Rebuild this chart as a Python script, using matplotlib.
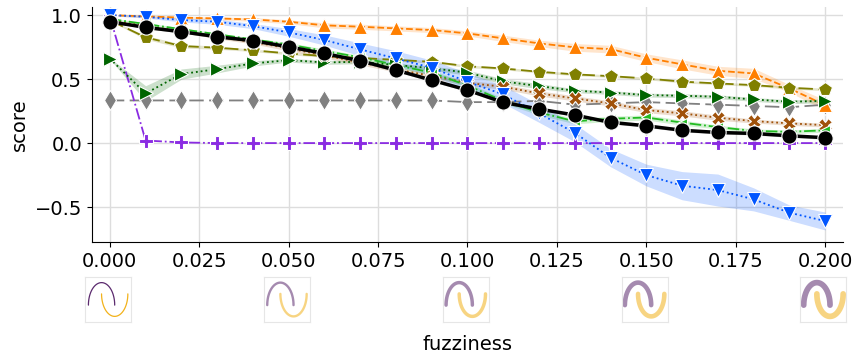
import matplotlib
matplotlib.use("Agg")
import matplotlib.pyplot as plt
import numpy as np

# fuzziness levels
fuzz = [0.00, 0.01, 0.02, 0.03, 0.04, 0.05, 0.06, 0.07, 0.08, 0.09, 0.10,
        0.11, 0.12, 0.13, 0.14, 0.15, 0.16, 0.17, 0.18, 0.19, 0.20]

orange = [1.00, 0.99, 0.98, 0.974, 0.966, 0.948, 0.92, 0.909, 0.896, 0.883, 0.857,
          0.818, 0.779, 0.748, 0.734, 0.667, 0.615, 0.565, 0.544, 0.427, 0.297]
orange_sd = [0.005, 0.01, 0.01, 0.01, 0.015, 0.015, 0.02, 0.02, 0.02, 0.02, 0.02,
             0.025, 0.025, 0.03, 0.03, 0.03, 0.035, 0.035, 0.04, 0.03, 0.04]

blue = [1.00, 0.987, 0.961, 0.948, 0.914, 0.865, 0.805, 0.732, 0.661, 0.588, 0.479,
        0.38, 0.232, 0.08, -0.115, -0.25, -0.333, -0.367, -0.44, -0.544, -0.609]
blue_sd = [0.005, 0.01, 0.015, 0.02, 0.02, 0.03, 0.04, 0.05, 0.06, 0.06, 0.07,
           0.07, 0.07, 0.07, 0.07, 0.085, 0.11, 0.125, 0.09, 0.06, 0.07]

olive = [0.96, 0.826, 0.758, 0.745, 0.725, 0.70, 0.68, 0.665, 0.65, 0.635, 0.60,
         0.583, 0.557, 0.537, 0.523, 0.505, 0.48, 0.466, 0.453, 0.432, 0.419]
olive_sd = [0.005, 0.015, 0.015, 0.012, 0.01, 0.01, 0.01, 0.01, 0.01, 0.01, 0.01,
            0.01, 0.01, 0.01, 0.01, 0.01, 0.01, 0.01, 0.01, 0.01, 0.01]

dkgreen = [0.66, 0.388, 0.539, 0.578, 0.622, 0.648, 0.63, 0.635, 0.61, 0.585, 0.55,
           0.482, 0.445, 0.409, 0.395, 0.375, 0.37, 0.362, 0.341, 0.323, 0.33]
dkgreen_sd = [0.005, 0.06, 0.04, 0.03, 0.02, 0.015, 0.015, 0.015, 0.015, 0.015, 0.02,
              0.02, 0.02, 0.015, 0.015, 0.015, 0.015, 0.015, 0.015, 0.015, 0.015]

gray = [0.333, 0.333, 0.333, 0.333, 0.333, 0.333, 0.333, 0.333, 0.333, 0.333, 0.32,
        0.32, 0.33, 0.30, 0.31, 0.32, 0.31, 0.30, 0.29, 0.28, 0.30]

brown = [0.96, 0.915, 0.875, 0.83, 0.79, 0.74, 0.685, 0.63, 0.575, 0.525, 0.47,
         0.44, 0.388, 0.349, 0.31, 0.258, 0.232, 0.198, 0.172, 0.154, 0.14]
brown_sd = [0.005, 0.01, 0.01, 0.015, 0.015, 0.02, 0.02, 0.02, 0.02, 0.02, 0.02,
            0.02, 0.02, 0.02, 0.02, 0.02, 0.02, 0.02, 0.015, 0.015, 0.015]

ltgreen = [0.97, 0.93, 0.89, 0.85, 0.81, 0.77, 0.72, 0.67, 0.61, 0.55, 0.45,
           0.33, 0.24, 0.17, 0.19, 0.20, 0.16, 0.125, 0.095, 0.088, 0.10]
ltgreen_sd = [0.005, 0.01, 0.01, 0.01, 0.01, 0.015, 0.015, 0.015, 0.02, 0.02, 0.02,
              0.02, 0.02, 0.02, 0.02, 0.02, 0.02, 0.015, 0.015, 0.015, 0.015]

black = [0.948, 0.904, 0.870, 0.831, 0.80, 0.752, 0.70, 0.643, 0.570, 0.492, 0.414,
         0.318, 0.266, 0.219, 0.162, 0.135, 0.10, 0.083, 0.075, 0.057, 0.042]
black_sd = [0.005, 0.01, 0.01, 0.012, 0.012, 0.012, 0.012, 0.012, 0.012, 0.012, 0.012,
            0.012, 0.012, 0.012, 0.012, 0.012, 0.012, 0.012, 0.012, 0.012, 0.012]

purple = [0.99, 0.02, 0.005, 0.0, 0.0, 0.0, 0.0, 0.0, 0.0, 0.0, 0.0,
          0.0, 0.0, 0.0, 0.0, 0.0, 0.0, 0.0, 0.0, 0.0, 0.0]

thumb_fuzz = [0.0, 0.05, 0.10, 0.15, 0.20]

# (values, spread, color, marker, linestyle, markersize)
SERIES = [
    (gray, None, "#808080", "d", (0, (8, 3)), 10),
    (purple, None, "#8A2BE2", "P", "-.", 10),
    (orange, orange_sd, "#FF7F00", "^", "--", 10),
    (olive, olive_sd, "#808000", "p", (0, (8, 3)), 10),
    (dkgreen, dkgreen_sd, "#006400", ">", ":", 10),
    (brown, brown_sd, "#A0520A", "X", ":", 10),
    (ltgreen, ltgreen_sd, "#22BB22", "<", "-.", 7),
    (blue, blue_sd, "#0055FF", "v", ":", 10),
    (black, black_sd, "#000000", "o", "-", 11),
]

plt.rcParams.update({"font.size": 14, "font.family": "DejaVu Sans"})

fig = plt.figure(figsize=(8.57, 3.56), dpi=100)
ax = fig.add_axes([0.1073, 0.3202, 0.8764, 0.659])

x = np.array(fuzz)
for vals, sd, color, marker, ls, ms in SERIES:
    v = np.array(vals)
    if sd is not None:
        s = np.array(sd)
        ax.fill_between(x, v - s, v + s, color=color, alpha=0.2, linewidth=0)
    lw = 2.5 if marker == "o" else 1.3
    ax.plot(x, v, color=color, linestyle=ls, linewidth=lw, marker=marker,
            markersize=ms, markeredgecolor="white", markeredgewidth=0.8)

ax.set_xlim(-0.005, 0.205)
ax.set_ylim(-0.773, 1.06)
ax.set_xticks([0.0, 0.025, 0.05, 0.075, 0.1, 0.125, 0.15, 0.175, 0.2])
ax.set_yticks([-0.5, 0.0, 0.5, 1.0])
ax.xaxis.set_major_formatter(matplotlib.ticker.FormatStrFormatter("%.3f"))
ax.grid(True, color="#dddddd", linewidth=1.0)
ax.set_axisbelow(True)
ax.spines["top"].set_visible(False)
ax.spines["right"].set_visible(False)
ax.set_ylabel("score")
ax.set_xlabel("fuzziness")
ax.xaxis.set_label_coords(0.5, -0.395)

# moon thumbnails under the x axis
t = np.linspace(0, np.pi, 100)
to_fig = fig.transFigure.inverted()
w, h = 46 / 857, 45 / 356
for f in thumb_fuzz:
    cx = to_fig.transform(ax.transData.transform((f, 0)))[0]
    iax = fig.add_axes([cx - w / 2 - 0.002, 1 - 322 / 356, w, h])
    lw = 0.9 + 16 * f
    alpha = 1.0 if f == 0 else 0.55
    iax.plot(np.cos(t), np.sin(t), color="#5B2A6E", linewidth=lw, alpha=alpha,
             solid_capstyle="round")
    iax.plot(1 - np.cos(t), 0.5 - np.sin(t), color="#F2B21B", linewidth=lw,
             alpha=alpha, solid_capstyle="round")
    iax.set_xlim(-1.25, 2.25)
    iax.set_ylim(-0.75, 1.25)
    iax.set_xticks([])
    iax.set_yticks([])
    for sp in iax.spines.values():
        sp.set_color("#e6e6e6")

fig.savefig("out.png", dpi=100)
